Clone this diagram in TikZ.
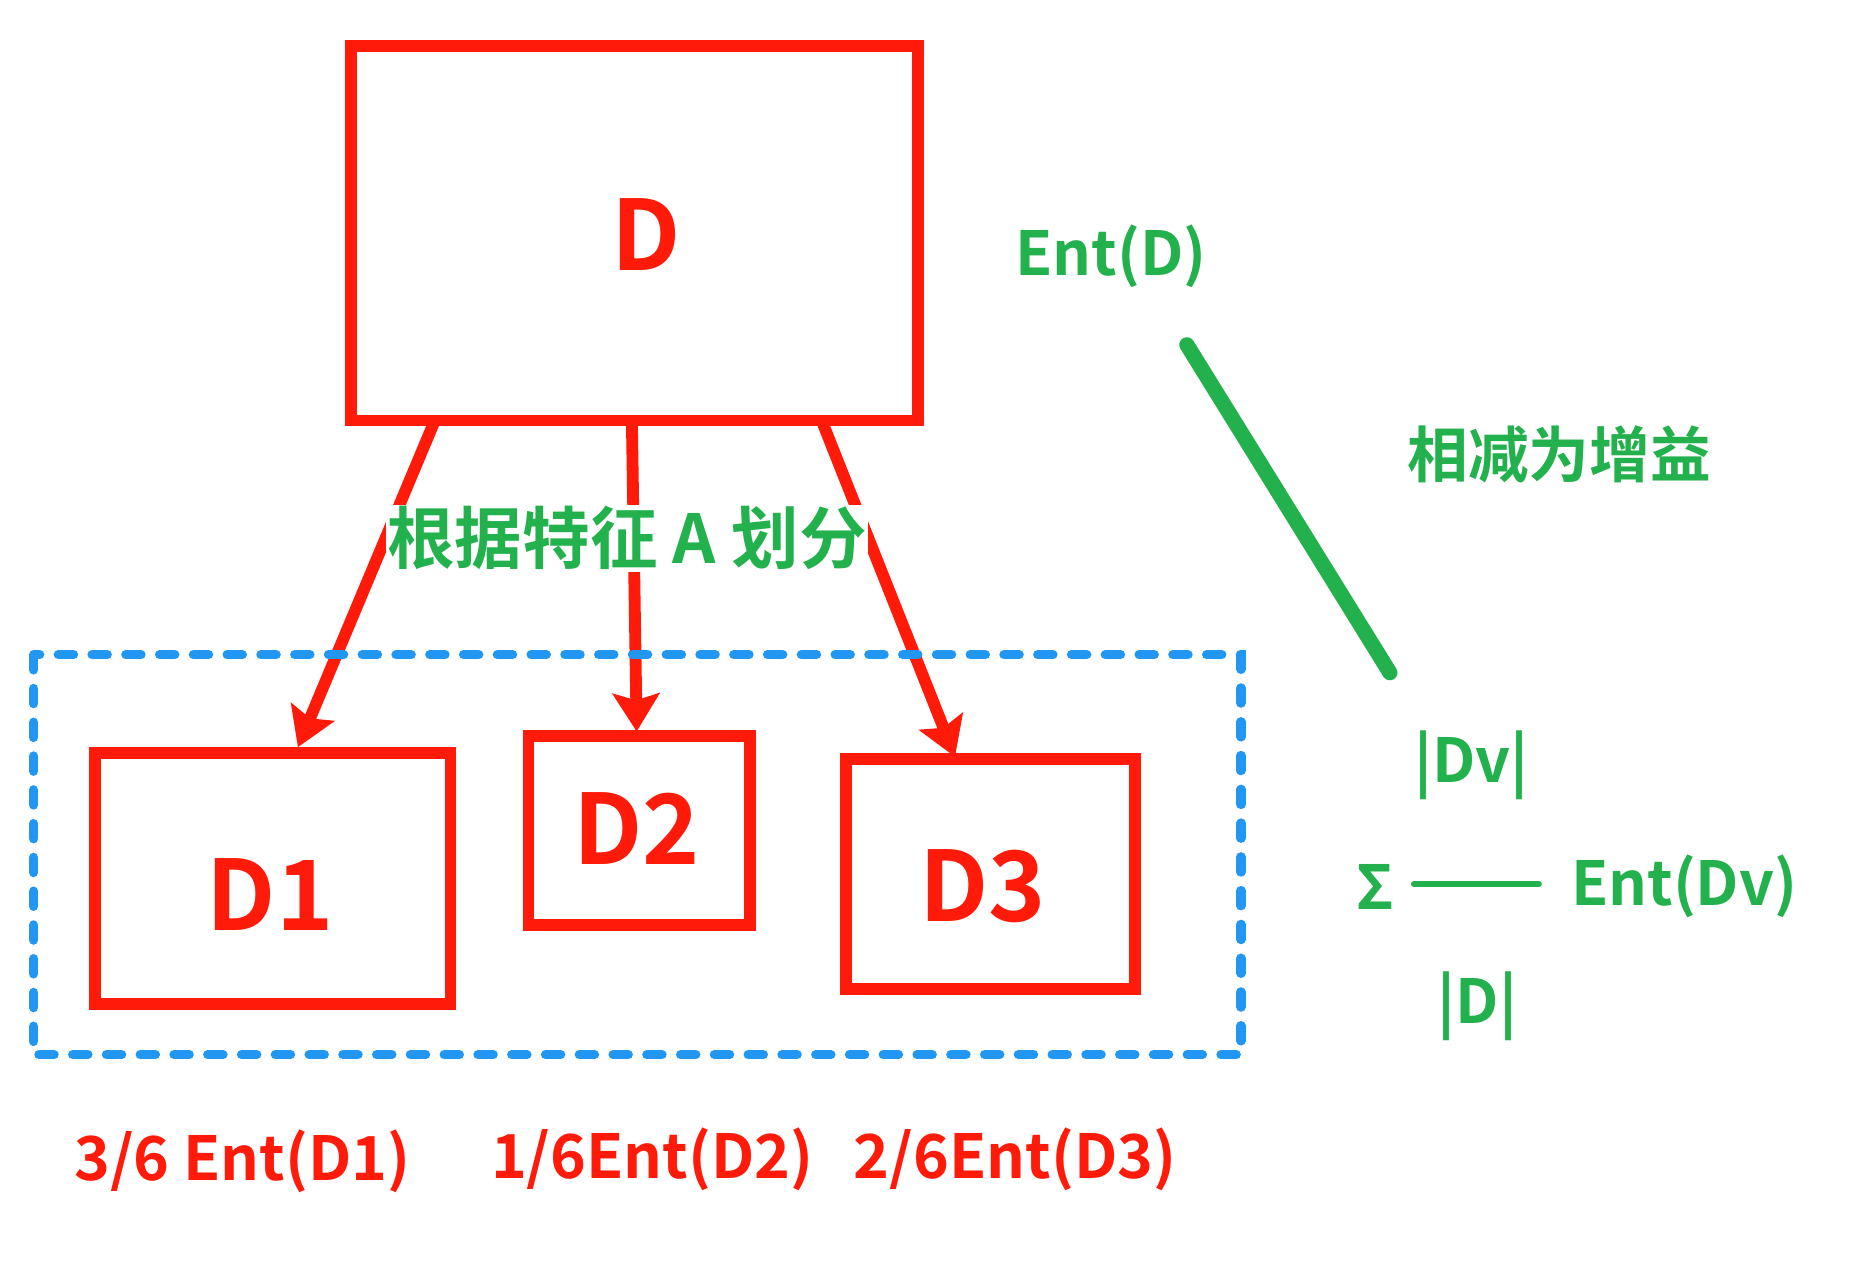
\documentclass[tikz,border=0pt]{standalone}
\usepackage{fontspec}
\setmainfont{Noto Sans CJK SC}[BoldFont={Noto Sans CJK SC Bold}]
\usetikzlibrary{arrows.meta}
\definecolor{rr}{HTML}{FF1A0A}
\definecolor{gg}{HTML}{22B14C}
\definecolor{bb}{HTML}{2196F3}
\begin{document}
\begin{tikzpicture}[x=0.05cm,y=-0.05cm,
 box/.style={draw=rr,line width=14pt},
 big/.style={text=rr,font=\bfseries\fontsize{115}{115}\selectfont},
 rl/.style={text=rr,font=\bfseries\fontsize{72}{72}\selectfont},
 gl/.style={text=gg,font=\bfseries\fontsize{72}{72}\selectfont},
 arr/.style={draw=rr,line width=14pt,-{Stealth[inset=8pt,length=45pt,width=55pt]}}]
\useasboundingbox[fill=white] (0,0) rectangle (1560,1051);
\draw[box] (292,38) rectangle (764,350);
\node[big] (D) at (538,195) {D};
\draw[box] (79,627) rectangle (375,836);
\node[big] (D1) at (225,745) {D1};
\draw[box] (440,613) rectangle (624,770);
\node[big] (D2) at (530,690) {D2};
\draw[box] (704,632) rectangle (945,823);
\node[big] (D3) at (818,738) {D3};
\coordinate (a1) at (362,350); \coordinate (b1) at (248,622);
\coordinate (a2) at (526,350); \coordinate (b2) at (530,609);
\coordinate (a3) at (684,350); \coordinate (b3) at (795,630);
\draw[arr] (a1) -- (b1);
\draw[arr] (a2) -- (b2);
\draw[arr] (a3) -- (b3);
\node[gl,fill=white,inner sep=2pt,font=\bfseries\fontsize{80}{80}\selectfont] (lab) at (522,448) {根据特征 A 划分};
\draw[bb,line width=11pt,dash pattern=on 18pt off 22pt,line cap=round] (28,545) rectangle (1033,878);
\node[gl] (E) at (925,213) {Ent(D)};
\coordinate (g1) at (988,287); \coordinate (g2) at (1157,560);
\draw[gg,line width=18pt,line cap=round] (g1) -- (g2);
\node[gl] (gain) at (1298,378) {相减为增益};
\node[rl] (l1) at (202,967) {3/6 Ent(D1)};
\node[rl] (l2) at (543,965) {1/6Ent(D2)};
\node[rl] (l3) at (845,965) {2/6Ent(D3)};
\node[gl] (dv) at (1225,637) {|Dv|};
\node[gl] (sig) at (1145,738) {Σ};
\coordinate (f1) at (1177,736); \coordinate (f2) at (1281,736);
\draw[gg,line width=7pt,line cap=round] (f1) -- (f2);
\node[gl] (edv) at (1402,738) {Ent(Dv)};
\node[gl] (dd) at (1230,838) {|D|};
\end{tikzpicture}
\end{document}
